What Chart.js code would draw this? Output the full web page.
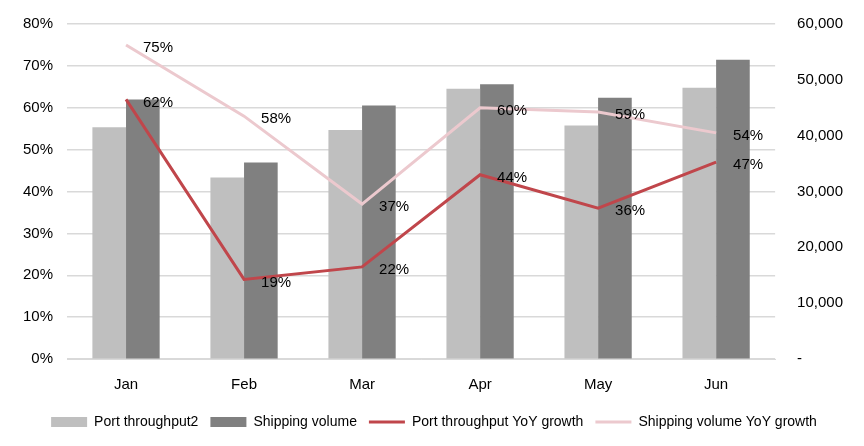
<!DOCTYPE html>
<html>
<head>
<meta charset="utf-8">
<script src="https://cdn.jsdelivr.net/npm/chart.js@4.4.1/dist/chart.umd.min.js"></script>
<style>
  html, body { margin: 0; padding: 0; background: #fff; }
  #wrap { width: 864px; height: 446px; }
</style>
</head>
<body>
<div id="wrap"><canvas id="c" width="864" height="446"></canvas></div>
<script>
const categories = ['Jan', 'Feb', 'Mar', 'Apr', 'May', 'Jun'];
const portThroughput = [41500, 32500, 41000, 48400, 41800, 48600];
const shippingVolume = [46500, 35200, 45400, 49200, 46800, 53600];
const portYoY = [62, 19, 22, 44, 36, 47];
const shippingYoY = [75, 58, 37, 60, 59, 54];
const seriesNames = ['Port throughput2', 'Shipping volume', 'Port throughput YoY growth', 'Shipping volume YoY growth'];

const FONT = "'Liberation Sans', Arial, sans-serif";

const labelPlugin = {
  id: 'pointLabels',
  afterDatasetsDraw(chart) {
    const ctx = chart.ctx;
    ctx.save();
    ctx.font = '15px ' + FONT;
    ctx.fillStyle = '#000';
    ctx.textAlign = 'left';
    ctx.textBaseline = 'middle';
    [2, 3].forEach(di => {
      const meta = chart.getDatasetMeta(di);
      const data = chart.data.datasets[di].data;
      meta.data.forEach((pt, i) => {
        ctx.fillText(data[i] + '%', pt.x + 17, pt.y + 3);
      });
    });
    ctx.restore();
  }
};

new Chart(document.getElementById('c'), {
  data: {
    labels: categories,
    datasets: [
      { type: 'bar', label: seriesNames[0], data: portThroughput, backgroundColor: '#bfbfbf', yAxisID: 'y1', order: 2, categoryPercentage: 0.57, barPercentage: 1.0 },
      { type: 'bar', label: seriesNames[1], data: shippingVolume, backgroundColor: '#808080', yAxisID: 'y1', order: 2, categoryPercentage: 0.57, barPercentage: 1.0 },
      { type: 'line', label: seriesNames[2], data: portYoY, borderColor: '#c0464b', backgroundColor: '#c0464b', borderWidth: 3, pointRadius: 0, tension: 0, yAxisID: 'y', order: 0 },
      { type: 'line', label: seriesNames[3], data: shippingYoY, borderColor: '#ecc9ce', backgroundColor: '#ecc9ce', borderWidth: 3, pointRadius: 0, tension: 0, yAxisID: 'y', order: 1 }
    ]
  },
  options: {
    responsive: false,
    animation: false,
    layout: { padding: { top: 24, right: 15, left: 19, bottom: 7 } },
    plugins: {
      tooltip: { enabled: false },
      legend: {
        position: 'bottom',
        labels: {
          font: { family: FONT, size: 14 },
          color: '#000',
          usePointStyle: true,
          pointStyleWidth: 36,
          boxHeight: 10,
          padding: 12,
          sort: (a, b) => a.datasetIndex - b.datasetIndex,
          generateLabels(chart) {
            const items = Chart.defaults.plugins.legend.labels.generateLabels(chart);
            items.forEach(it => {
              const ds = chart.data.datasets[it.datasetIndex];
              if (ds.type === 'bar') {
                it.pointStyle = 'rect';
                it.fillStyle = ds.backgroundColor;
                it.strokeStyle = ds.backgroundColor;
                it.lineWidth = 0;
              } else {
                it.pointStyle = 'line';
                it.strokeStyle = ds.borderColor;
                it.lineWidth = 3;
              }
            });
            return items;
          }
        }
      }
    },
    scales: {
      x: {
        grid: { display: false },
        border: { display: true, color: '#d9d9d9' },
        ticks: { color: '#000', font: { family: FONT, size: 15 }, padding: 9 }
      },
      y: {
        position: 'left',
        min: 0, max: 80,
        ticks: { stepSize: 10, color: '#000', font: { family: FONT, size: 15 }, padding: 4, callback: v => v + '%' },
        grid: { color: '#d9d9d9', lineWidth: 1.5, drawTicks: true, tickLength: 10, tickColor: 'rgba(0,0,0,0)' },
        border: { display: false }
      },
      y1: {
        position: 'right',
        min: 0, max: 60000,
        ticks: { stepSize: 10000, color: '#000', font: { family: FONT, size: 15 }, padding: 6, callback: v => v === 0 ? '-' : v.toLocaleString('en-US') },
        grid: { display: true, drawOnChartArea: false, drawTicks: true, tickLength: 16, tickColor: 'rgba(0,0,0,0)' },
        border: { display: false }
      }
    }
  },
  plugins: [labelPlugin]
});
</script>
</body>
</html>
